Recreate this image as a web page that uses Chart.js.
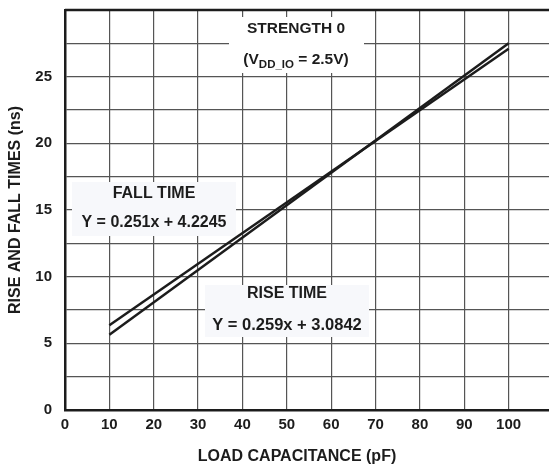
<!DOCTYPE html>
<html>
<head>
<meta charset="utf-8">
<script src="https://cdn.jsdelivr.net/npm/chart.js@4.4.1/dist/chart.umd.min.js"></script>
<style>
  html, body { margin: 0; padding: 0; background: #fff; overflow: hidden; }
  #wrap { width: 556px; height: 465px; }
</style>
</head>
<body>
<div id="wrap"><canvas id="riseFall" width="556" height="465"></canvas></div>
<script>
// load capacitance (pF) at the two ends of each fitted line
const capacitance = [10, 100];
// rise / fall time (ns)
const riseTime = [5.65, 27.5];
const fallTime = [6.35, 27.1];

const xTickLabels = [0, 10, 20, 30, 40, 50, 60, 70, 80, 90, 100];
const yTickLabels = [0, 5, 10, 15, 20, 25];

const FONT = "'Liberation Sans', Arial, sans-serif";
const INK = '#1c1c1c';

function toPoints(xs, ys) {
  return xs.map((x, i) => ({ x: x, y: ys[i] }));
}

// text boxes, frame and x title drawn over the grid, under the lines
const notes = {
  id: 'notes',
  beforeDatasetsDraw(chart) {
    const ctx = chart.ctx;
    const area = chart.chartArea;
    ctx.save();

    function box(x1, y1, x2, y2, color) {
      ctx.fillStyle = color;
      ctx.fillRect(x1, y1, x2 - x1, y2 - y1);
    }
    function text(str, x, y, size) {
      ctx.font = 'bold ' + size + 'px ' + FONT;
      ctx.fillStyle = INK;
      ctx.textAlign = 'center';
      ctx.textBaseline = 'middle';
      ctx.fillText(str, x, y);
    }

    box(229, 17, 364, 73, '#ffffff');
    text('STRENGTH 0', 296, 29, 15.5);

    // (VDD_IO = 2.5V) with subscript
    const parts = [['(V', 15.5, 0], ['DD_IO', 11.5, 4], [' = 2.5V)', 15.5, 0]];
    let total = 0;
    parts.forEach(p => {
      ctx.font = 'bold ' + p[1] + 'px ' + FONT;
      total += ctx.measureText(p[0]).width;
    });
    let cx = 296 - total / 2;
    ctx.textAlign = 'left';
    ctx.textBaseline = 'alphabetic';
    ctx.fillStyle = INK;
    parts.forEach(p => {
      ctx.font = 'bold ' + p[1] + 'px ' + FONT;
      ctx.fillText(p[0], cx, 63.5 + p[2]);
      cx += ctx.measureText(p[0]).width;
    });

    box(72, 182, 236, 236, '#f7f8fb');
    text('FALL TIME', 154, 194, 16);
    text('Y = 0.251x + 4.2245', 154, 223, 16);

    box(205, 285, 369, 337, '#f7f8fb');
    text('RISE TIME', 287, 294, 16);
    text('Y = 0.259x + 3.0842', 287, 325, 16.5);

    // top and right edges of the frame
    ctx.strokeStyle = INK;
    ctx.lineWidth = 2.5;
    ctx.beginPath();
    ctx.moveTo(area.left, area.top);
    ctx.lineTo(area.right, area.top);
    ctx.lineTo(area.right, area.bottom);
    ctx.stroke();

    text('LOAD CAPACITANCE (pF)', 297, 457, 16);
    ctx.restore();
  }
};

const ctx = document.getElementById('riseFall');
const chart = new Chart(ctx, {
  type: 'scatter',
  data: {
    datasets: [
      {
        label: 'Rise time',
        data: toPoints(capacitance, riseTime),
        showLine: true,
        borderColor: INK,
        borderWidth: 2.5,
        pointRadius: 0
      },
      {
        label: 'Fall time',
        data: toPoints(capacitance, fallTime),
        showLine: true,
        borderColor: INK,
        borderWidth: 2.5,
        pointRadius: 0
      }
    ]
  },
  options: {
    responsive: false,
    animation: false,
    layout: { padding: { top: 10, right: 3, left: 0, bottom: 0 } },
    plugins: {
      legend: { display: false },
      tooltip: { enabled: false }
    },
    scales: {
      x: {
        type: 'linear',
        min: 0,
        max: 110,
        afterFit: s => {
          s.height = 55;
          s.paddingLeft = 0;
          s.paddingRight = 0;
        },
        ticks: {
          stepSize: 10,
          padding: 6,
          color: INK,
          font: { family: FONT, size: 15, weight: 'bold' },
          callback: v => xTickLabels.includes(v) ? String(v) : ''
        },
        grid: { color: '#555', lineWidth: 1.2, drawTicks: false },
        border: { color: INK, width: 2.5 }
      },
      y: {
        type: 'linear',
        min: 0,
        max: 30,
        afterFit: s => {
          s.width = 65;
          s.paddingTop = 0;
          s.paddingBottom = 0;
        },
        ticks: {
          stepSize: 2.5,
          padding: 13,
          color: INK,
          font: { family: FONT, size: 15, weight: 'bold' },
          callback: v => yTickLabels.includes(v) ? String(v) : ''
        },
        grid: { color: '#555', lineWidth: 1.2, drawTicks: false },
        border: { color: INK, width: 2.5 },
        title: {
          display: true,
          text: 'RISE AND FALL TIMES (ns)',
          color: INK,
          font: { family: FONT, size: 16, weight: 'bold' },
          padding: { top: 6, bottom: 0 }
        }
      }
    }
  },
  plugins: [notes]
});
</script>
</body>
</html>
